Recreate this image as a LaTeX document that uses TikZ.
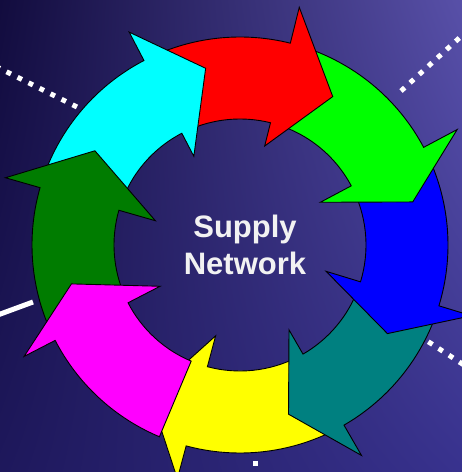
\documentclass[tikz,border=0pt]{standalone}
\usepackage{fontspec}
\usepackage{tikz}
\usetikzlibrary{shadings}
\newfontfamily\labelfont{Liberation Sans}

\definecolor{bgtl}{RGB}{18,12,62}
\definecolor{bgtr}{RGB}{88,80,168}
\definecolor{bgbl}{RGB}{30,24,92}
\definecolor{bgbr}{RGB}{56,50,142}
\definecolor{arrowred}{RGB}{255,0,0}
\definecolor{leafgreen}{RGB}{0,255,0}
\definecolor{arrowblue}{RGB}{0,0,255}
\definecolor{tealgreen}{RGB}{0,128,128}
\definecolor{arrowyellow}{RGB}{255,255,0}
\definecolor{arrowmagenta}{RGB}{255,0,255}
\definecolor{darkgreen}{RGB}{0,124,0}
\definecolor{arrowcyan}{RGB}{0,255,255}

\begin{document}
\begin{tikzpicture}[x=1pt, y=1pt,
    segment/.style = {draw=black, line width=0.9pt, line join=miter},
    dots/.style = {draw=white, line width=5pt, dash pattern=on 5pt off 7.3pt},
    title/.style = {text=white!95!black, align=center,
        font=\labelfont\bfseries\fontsize{31}{37}\selectfont}]

    \useasboundingbox (0,0) rectangle (462,472);
    \shade[upper left=bgtl, upper right=bgtr, lower left=bgbl, lower right=bgbr]
        (0,0) rectangle (462,472);

    % spokes behind the ring
    \coordinate (tl-in) at (77,365);
    \coordinate (tl-out) at (-5,406);
    \coordinate (tr-in) at (401,381);
    \coordinate (tr-out) at (467,441);
    \coordinate (br-in) at (418,137);
    \coordinate (br-out) at (467,105);
    \coordinate (b-in) at (255,11);
    \coordinate (b-out) at (255,-6);
    \coordinate (l-in) at (33,170);
    \coordinate (l-out) at (-5,156);

    \draw[dots] (tl-in) -- (tl-out);
    \draw[dots] (tr-in) -- (tr-out);
    \draw[dots] (br-in) -- (br-out);
    \draw[dots] (b-in) -- (b-out);
    \draw[white, line width=5pt] (l-in) -- (l-out);

    \begin{scope}[shift={(240,227)}]
    \filldraw[segment, fill=arrowyellow]
        (-63:208) arc[start angle=-63, end angle=-105, radius=208]
        -- (-105:242) -- (-121:175) -- (-105:94)
        -- (-105:126) arc[start angle=-105, end angle=-63, radius=126] -- cycle;

    \filldraw[segment, fill=tealgreen]
        (-20:208) arc[start angle=-20, end angle=-60, radius=208]
        -- (-60:243) -- (-74:176) -- (-60:98)
        -- (-60:126) arc[start angle=-60, end angle=-20, radius=126] -- cycle;

    \filldraw[segment, fill=arrowblue]
        (25:208) arc[start angle=25, end angle=-17, radius=208]
        -- (-17:242) -- (-31:172) -- (-17:90)
        -- (-17:126) arc[start angle=-17, end angle=25, radius=126] -- cycle;

    \filldraw[segment, fill=leafgreen]
        (73:208) arc[start angle=73, end angle=28, radius=208]
        -- (28:246) -- (14:178) -- (28:91)
        -- (28:126) arc[start angle=28, end angle=73, radius=126] -- cycle;

    \filldraw[segment, fill=arrowred]
        (114.5:208) arc[start angle=114.5, end angle=76, radius=208]
        -- (76:245) -- (58:175) -- (76:102)
        -- (76:126) arc[start angle=76, end angle=114.5, radius=126] -- cycle;

    \filldraw[segment, fill=arrowcyan]
        (161:208) arc[start angle=161, end angle=117.5, radius=208]
        -- (117.5:240) -- (101:180) -- (117.5:100)
        -- (117.5:126) arc[start angle=117.5, end angle=161, radius=126] -- cycle;

    \filldraw[segment, fill=darkgreen]
        (204.3:208) arc[start angle=204.3, end angle=164, radius=208]
        -- (164:244) -- (147:173) -- (164:88)
        -- (164:126) arc[start angle=164, end angle=204.3, radius=126] -- cycle;

    \filldraw[segment, fill=arrowmagenta]
        (-112.8:208) arc[start angle=-112.8, end angle=-152.7, radius=208]
        -- (-152.7:243) -- (-167:173) -- (-152.7:90)
        -- (-152.7:126) arc[start angle=-152.7, end angle=-112.8, radius=126] -- cycle;
    \end{scope}

    \node[title] (name) at (245,227.5) {Supply\\Network};
\end{tikzpicture}
\end{document}
